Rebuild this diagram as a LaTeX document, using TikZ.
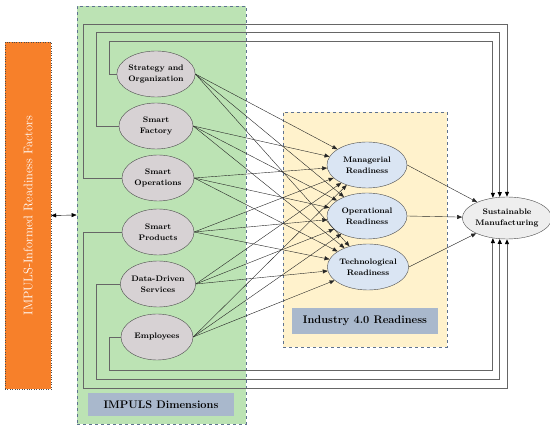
\documentclass[tikz,border=0pt]{standalone}
\usepackage{tikz}
\usetikzlibrary{positioning, arrows.meta, shapes.geometric, calc}
\definecolor{mOrange}{HTML}{F7802A}
\definecolor{mGreen}{HTML}{BCE3B4}
\definecolor{mYellow}{HTML}{FFF2CC}
\definecolor{mSlate}{HTML}{5E7290}
\definecolor{mLabel}{HTML}{A9B8CC}
\definecolor{mDim}{HTML}{D7D2D4}
\definecolor{mReady}{HTML}{DAE5F3}
\definecolor{mSust}{HTML}{EEEEEE}

\begin{document}
\begin{tikzpicture}[x=1pt, y=-1pt,
  area/.style={draw=mSlate, dashed, thick},
  tag/.style={fill=mLabel, minimum width=146pt, font=\fontsize{11}{13}\selectfont\bfseries},
  dim/.style={ellipse, draw=black!70, fill=mDim, minimum width=72pt, minimum height=46pt,
              inner sep=0pt, align=center, font=\fontsize{8}{11}\selectfont\bfseries},
  ready/.style={dim, fill=mReady, minimum width=80pt},
  link/.style={-{Triangle[length=5pt, width=4pt]}, black!85},
  loop/.style={-{Triangle[length=5pt, width=4pt, black]}, black!60, line width=0.9pt},
]
  \useasboundingbox (0,0) rectangle (550,430);

  % frames
  \node[draw=black!70, dotted, fill=mOrange, minimum width=46pt, minimum height=347pt] (fac) at (28,215.5) {};
  \node[rotate=90, text=white, font=\fontsize{12.5}{15}\selectfont] at (fac.center) {IMPULS-Informed Readiness Factors};
  \node[area, fill=mGreen, minimum width=169pt, minimum height=418pt] (dims) at (161.5,215) {};
  \node[area, fill=mYellow, minimum width=164pt, minimum height=235pt] (ind) at (365,229.5) {};
  \node[tag, minimum height=23pt] at (161,404.5) {IMPULS Dimensions};
  \node[tag, minimum height=26pt] at (365,321) {Industry 4.0 Readiness};
  \draw[{Triangle[length=5pt, width=4pt]}-{Triangle[length=5pt, width=4pt]}] (fac.east) -- (dims.west);

  % IMPULS dimensions
  \node[dim, minimum width=74pt] (str) at (156,74) {Strategy and\\Organization};
  \node[dim, minimum width=74pt] (fct) at (156,126) {Smart\\Factory};
  \node[dim] (ops) at (158,178) {Smart\\Operations};
  \node[dim] (prd) at (158,232) {Smart\\Products};
  \node[dim] (srv) at (158,284) {Data-Driven\\Services};
  \node[dim] (emp) at (157,337) {Employees};

  % readiness and outcome
  \node[ready] (mgr) at (367,165) {Managerial\\Readiness};
  \node[ready] (opr) at (367,216) {Operational\\Readiness};
  \node[ready] (tec) at (368,267) {Technological\\Readiness};
  \node[ready, fill=mSust, minimum height=42pt] (sus) at (507,218) {Sustainable\\Manufacturing};

  \foreach \d in {str, fct, ops, prd, srv, emp}
    \foreach \r in {mgr, opr, tec}
      \draw[link] (\d.east) -- (\r);
  \foreach \r in {mgr, opr, tec}
    \draw[link] (\r.east) -- (sus);

  % direct paths to the outcome
  \draw[loop] (str.west) -| (109,41) -| (sus.125);
  \draw[loop] (fct.west) -| (96,32) -| (sus.109);
  \draw[loop] (ops.west) -| (83,24) -| (sus.north);
  \draw[loop] (prd.west) -| (83,388) -| (sus.south);
  \draw[loop] (srv.west) -| (96,379) -| (sus.251);
  \draw[loop] (emp.west) -| (109,370) -| (sus.235);
\end{tikzpicture}
\end{document}
